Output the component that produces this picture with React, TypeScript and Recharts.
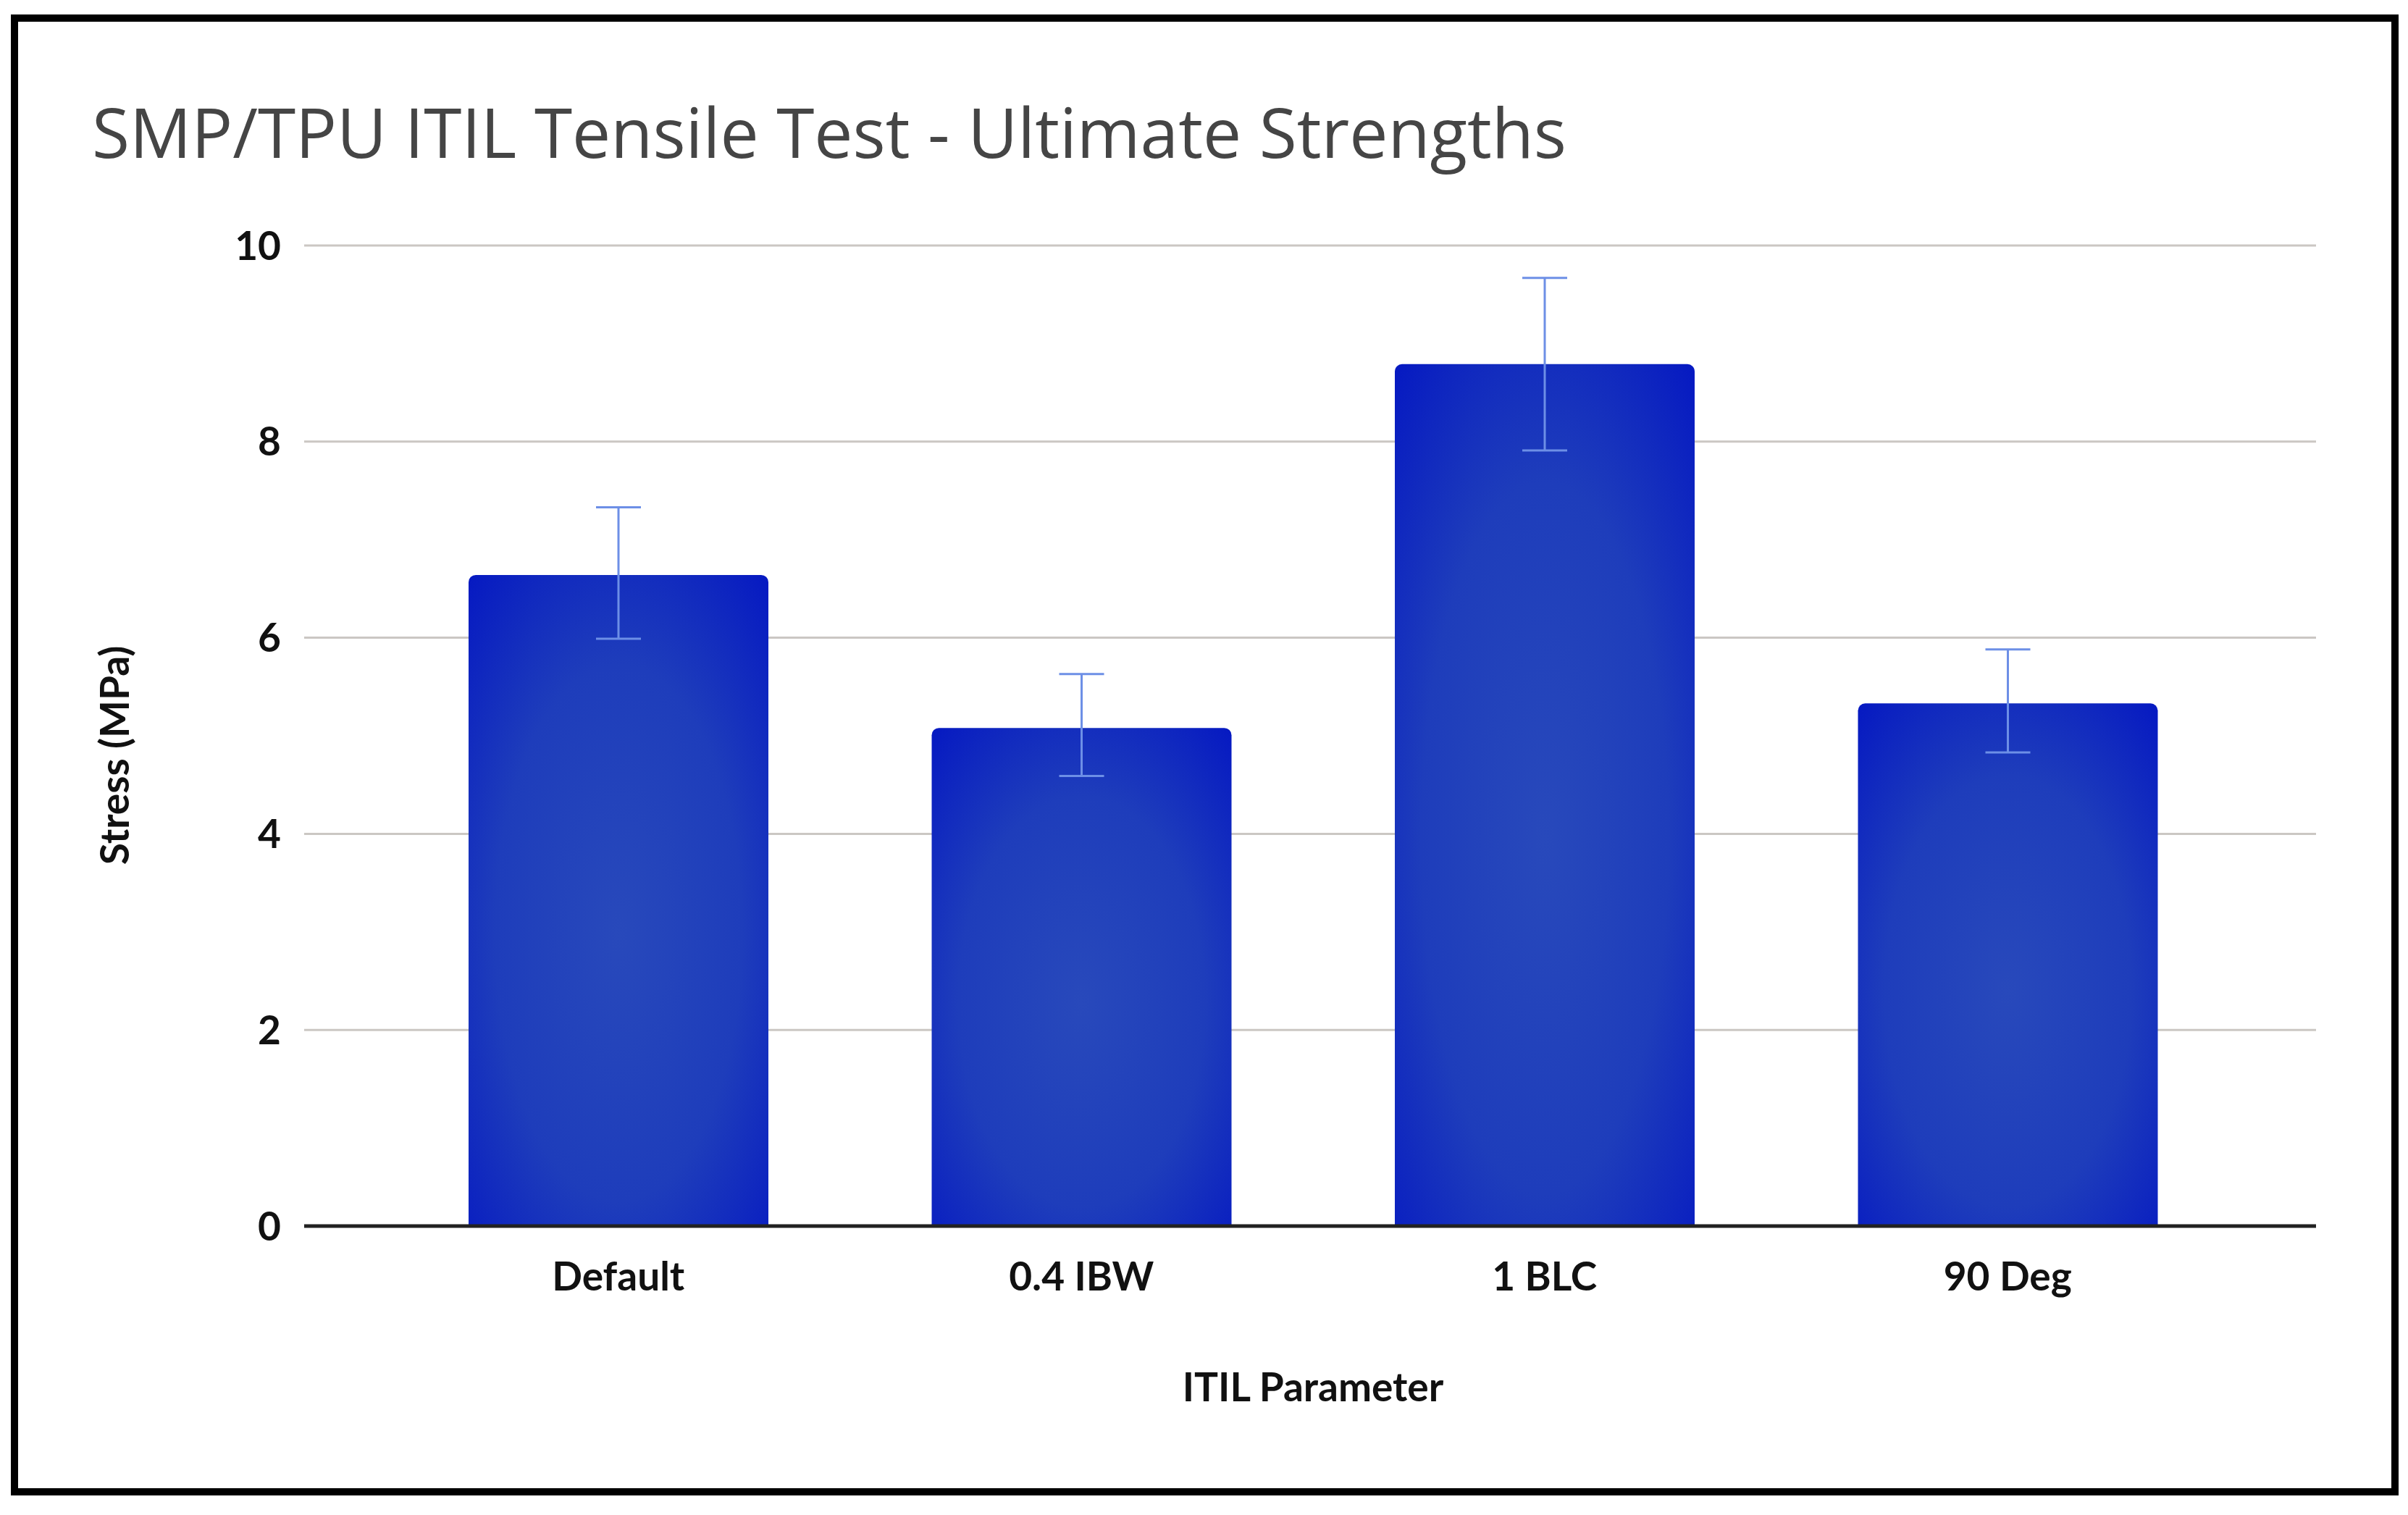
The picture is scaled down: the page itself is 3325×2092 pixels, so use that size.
import React from 'react';
import { BarChart, Bar, XAxis, YAxis, CartesianGrid, ErrorBar, Label } from 'recharts';

const categories = ['Default', '0.4 IBW', '1 BLC', '90 Deg'];
const means = [6.64, 5.08, 8.79, 5.33];
const upperBounds = [7.33, 5.63, 9.67, 5.88];
const lowerBounds = [5.99, 4.59, 7.91, 4.83];
const yTicks = [0, 2, 4, 6, 8, 10];

const data = categories.map((name, i) => ({
  name,
  value: means[i],
  err: [means[i] - lowerBounds[i], upperBounds[i] - means[i]],
}));

const FONT = 'Lato, "Noto Sans", sans-serif';

export default function App() {
  return (
    <div style={{ position: 'fixed', left: 0, top: 0, width: 3325, height: 2092, background: '#fff' }}>
      <div
        style={{
          position: 'absolute',
          left: 15,
          top: 20,
          width: 3297,
          height: 2045,
          border: '10px solid #000',
          boxSizing: 'border-box',
        }}
      />
      <svg style={{ position: 'absolute', left: 0, top: 0 }} width={3325} height={300}>
        <text
          x={127}
          y={218}
          fontFamily='"Open Sans", sans-serif'
          fontSize={96}
          fill="#454545"
          textLength={2036}
          lengthAdjust="spacingAndGlyphs"
        >
          SMP/TPU ITIL Tensile Test - Ultimate Strengths
        </text>
      </svg>
      <div style={{ position: 'absolute', left: 0, top: 0 }}>
        <BarChart
          width={3325}
          height={2092}
          data={data}
          margin={{ top: 339, right: 127, bottom: 99, left: 0 }}
        >
          <defs>
            <radialGradient id="barGrad" cx="0.5" cy="0.55" r="0.75">
              <stop offset="0%" stopColor="#2849bb" />
              <stop offset="55%" stopColor="#1e3dbb" />
              <stop offset="100%" stopColor="#0518c2" />
            </radialGradient>
          </defs>
          <CartesianGrid vertical={false} stroke="#cbc7c3" strokeWidth={3} />
          <XAxis
            dataKey="name"
            height={300}
            padding={{ left: 114, right: 106 }}
            tickLine={false}
            tickSize={0}
            tickMargin={50}
            axisLine={{ stroke: '#222', strokeWidth: 5 }}
            tick={{ fill: '#111', fontSize: 55, fontFamily: FONT, fontWeight: 700 }}
          >
            <Label
              content={() => (
                <text
                  x={1813}
                  y={1935}
                  textAnchor="middle"
                  fill="#111"
                  fontSize={55}
                  fontFamily={FONT}
                  fontWeight={700}
                >
                  ITIL Parameter
                </text>
              )}
            />
          </XAxis>
          <YAxis
            width={420}
            domain={[0, 10]}
            ticks={yTicks}
            tickLine={false}
            axisLine={false}
            tickSize={0}
            tickMargin={32}
            tick={{ fill: '#111', fontSize: 55, fontFamily: FONT, fontWeight: 700 }}
          >
            <Label
              content={() => (
                <text
                  x={178}
                  y={1043}
                  textAnchor="middle"
                  transform="rotate(-90 178 1043)"
                  fill="#111"
                  fontSize={55}
                  fontFamily={FONT}
                  fontWeight={700}
                >
                  Stress (MPa)
                </text>
              )}
            />
          </YAxis>
          <Bar dataKey="value" fill="url(#barGrad)" barSize={414} radius={[10, 10, 0, 0]} isAnimationActive={false}>
            <ErrorBar dataKey="err" direction="y" width={31} strokeWidth={3} stroke="#6d8fe6" isAnimationActive={false} />
          </Bar>
        </BarChart>
      </div>
    </div>
  );
}
